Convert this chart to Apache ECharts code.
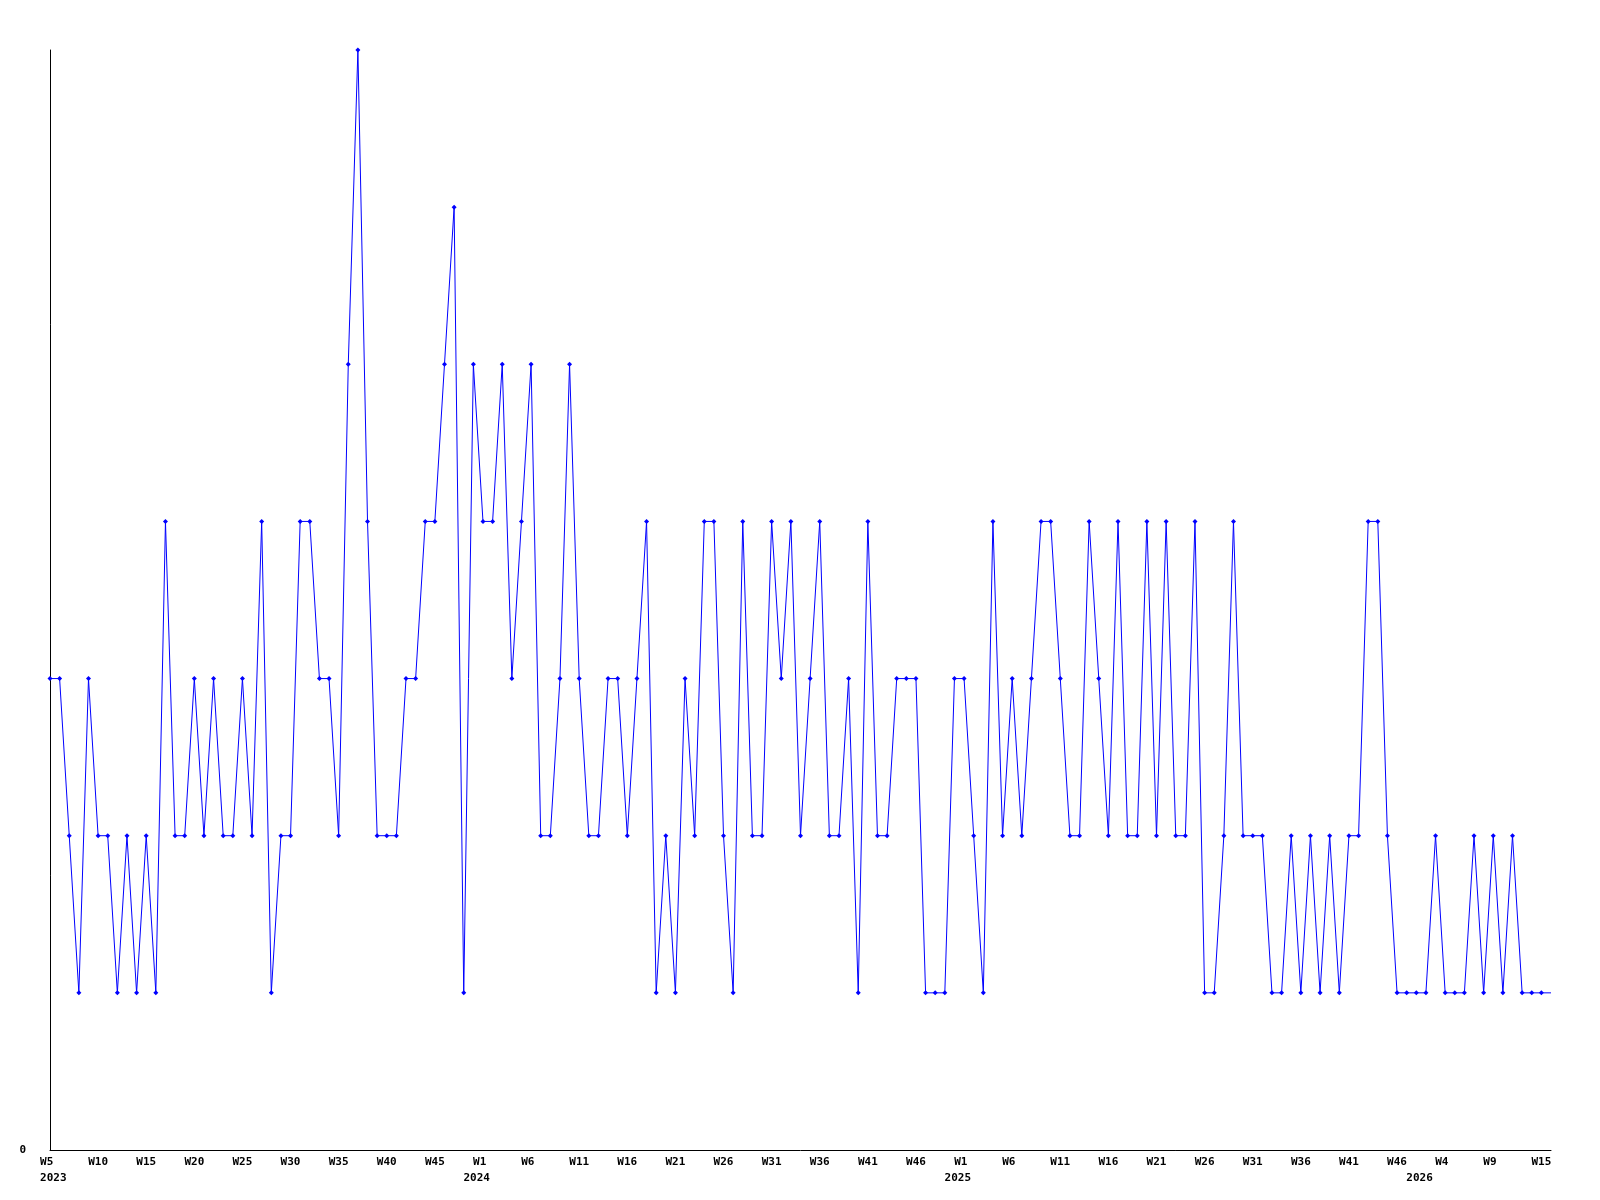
<!DOCTYPE html>
<html>
<head>
<meta charset="utf-8">
<script src="https://cdn.jsdelivr.net/npm/echarts@6/dist/echarts.min.js"></script>
<style>
  html, body { margin: 0; padding: 0; background: #fff; }
  #chart { width: 1600px; height: 1200px; }
</style>
</head>
<body>
<div id="chart"></div>
<script>
// Weekly values, one per point
const values = [
  3, 3, 2, 1, 3, 2, 2, 1, 2, 1,
  2, 1, 4, 2, 2, 3, 2, 3, 2, 2,
  3, 2, 4, 1, 2, 2, 4, 4, 3, 3,
  2, 5, 7, 4, 2, 2, 2, 3, 3, 4,
  4, 5, 6, 1, 5, 4, 4, 5, 3, 4,
  5, 2, 2, 3, 5, 3, 2, 2, 3, 3,
  2, 3, 4, 1, 2, 1, 3, 2, 4, 4,
  2, 1, 4, 2, 2, 4, 3, 4, 2, 3,
  4, 2, 2, 3, 1, 4, 2, 2, 3, 3,
  3, 1, 1, 1, 3, 3, 2, 1, 4, 2,
  3, 2, 3, 4, 4, 3, 2, 2, 4, 3,
  2, 4, 2, 2, 4, 2, 4, 2, 2, 4,
  1, 1, 2, 4, 2, 2, 2, 1, 1, 2,
  1, 2, 1, 2, 1, 2, 2, 4, 4, 2,
  1, 1, 1, 1, 2, 1, 1, 1, 2, 1,
  2, 1, 2, 1, 1, 1, 1
];

// Week tick labels, shown every 5th point
const weekTickLabels = [
  'W5', 'W10', 'W15', 'W20', 'W25', 'W30', 'W35', 'W40', 'W45',
  'W1', 'W6', 'W11', 'W16', 'W21', 'W26', 'W31', 'W36', 'W41', 'W46',
  'W1', 'W6', 'W11', 'W16', 'W21', 'W26', 'W31', 'W36', 'W41', 'W46',
  'W4', 'W9', 'W15'
];
const weekTickStep = 5;

// Year labels and the point index they sit under
const yearLabels = ['2023', '2024', '2025', '2026'];
const yearLabelIndex = [0, 44, 94, 142];

// Y axis tick labels
const yTickLabels = ['0'];

const categories = values.map((v, i) => String(i));

const font = { fontFamily: 'DejaVu Sans Mono', fontWeight: 'bold', fontSize: 11, color: '#000' };

const chart = echarts.init(document.getElementById('chart'), null, { renderer: 'canvas' });
chart.setOption({
  animation: false,
  backgroundColor: '#ffffff',
  grid: { left: 50, right: 49, top: 50, bottom: 50, containLabel: false },
  xAxis: [
    {
      type: 'category',
      data: categories,
      boundaryGap: false,
      axisLine: { show: true, lineStyle: { color: '#000', width: 1 } },
      axisTick: { show: false },
      splitLine: { show: false },
      axisLabel: Object.assign({}, font, {
        interval: (i) => i % weekTickStep === 0,
        margin: 7,
        formatter: (v, i) => (weekTickLabels[i / weekTickStep] || '').padEnd(3, ' ')
      })
    },
    {
      type: 'category',
      data: categories,
      boundaryGap: false,
      position: 'bottom',
      axisLine: { show: false },
      axisTick: { show: false },
      splitLine: { show: false },
      axisLabel: Object.assign({}, font, {
        interval: (i) => yearLabelIndex.indexOf(i) >= 0,
        margin: 23,
        formatter: (v, i) => {
          const k = yearLabelIndex.indexOf(i);
          return k >= 0 ? ' ' + yearLabels[k] : '';
        }
      })
    }
  ],
  yAxis: {
    type: 'value',
    min: 0,
    max: 7,
    interval: 7,
    axisLine: { show: true, lineStyle: { color: '#000', width: 1 } },
    axisTick: { show: false },
    splitLine: { show: false },
    axisLabel: Object.assign({}, font, {
      margin: 24,
      formatter: (v) => (v === 0 ? yTickLabels[0] : '')
    })
  },
  series: [{
    type: 'line',
    xAxisIndex: 0,
    data: values,
    symbol: (v, p) => (p.dataIndex === values.length - 1 ? 'none' : 'diamond'),
    symbolSize: 5,
    showAllSymbol: true,
    lineStyle: { color: '#0000ff', width: 1 },
    itemStyle: { color: '#0000ff' },
    emphasis: { disabled: true }
  }]
});
</script>
</body>
</html>
